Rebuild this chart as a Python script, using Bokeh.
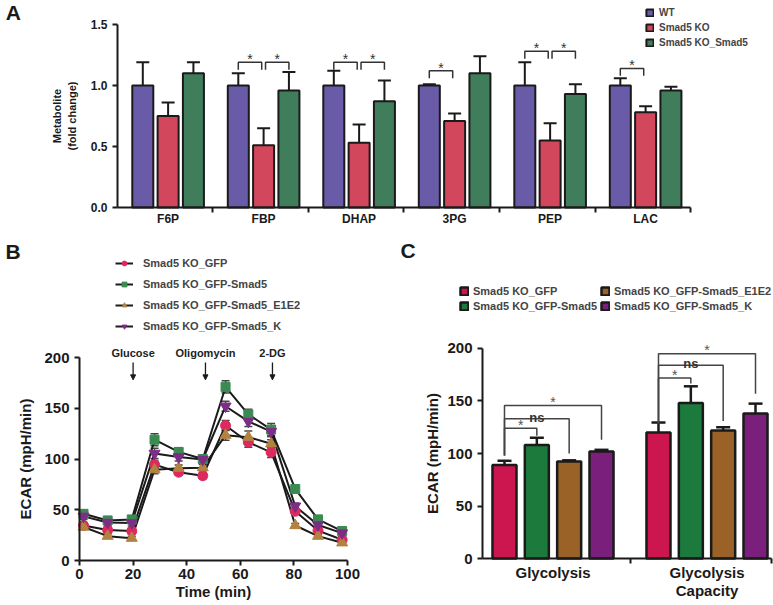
from bokeh.plotting import figure
from bokeh.layouts import column, row
from bokeh.models import (ColumnDataSource, Whisker, TeeHead, FixedTicker, Legend, LegendItem,
                          Label, Arrow, NormalHead, Range1d)
from bokeh.core.properties import value
from bokeh.embed import file_html
from bokeh.resources import INLINE

FONT = "Liberation Sans"
INK = "#1a1a1a"

# ---------------- Panel A data ----------------
metabolites = ["F6P", "FBP", "DHAP", "3PG", "PEP", "LAC"]
a_groups = ["WT", "Smad5 KO", "Smad5 KO_Smad5"]
a_wt = [1.0, 1.0, 1.0, 1.0, 1.0, 1.0]
a_wt_err = [0.19, 0.10, 0.12, 0.01, 0.19, 0.06]
a_ko = [0.75, 0.51, 0.53, 0.71, 0.55, 0.78]
a_ko_err = [0.11, 0.14, 0.15, 0.06, 0.14, 0.05]
a_res = [1.10, 0.96, 0.87, 1.10, 0.93, 0.96]
a_res_err = [0.09, 0.15, 0.17, 0.14, 0.08, 0.03]
a_colors = ["#6a5ba8", "#d2475c", "#3f7d5b"]
a_sig_cat = [1, 1, 2, 2, 3, 4, 4, 5]
a_sig_g0 = [0, 1, 0, 1, 0, 0, 1, 0]
a_sig_g1 = [1, 2, 1, 2, 1, 1, 2, 1]
a_sig_y = [1.19, 1.19, 1.19, 1.19, 1.12, 1.28, 1.28, 1.14]

# ---------------- Panel B data ----------------
b_time = [1.5, 10.5, 19.5, 28, 37, 46, 54.5, 63, 71.5, 80.5, 89, 98]
b_series = ["Smad5 KO_GFP", "Smad5 KO_GFP-Smad5", "Smad5 KO_GFP-Smad5_E1E2", "Smad5 KO_GFP-Smad5_K"]
b_gfp = [34.5, 30, 29, 94.5, 87, 83.5, 133, 116.5, 106.5, 48.5, 29.5, 20.5]
b_smad5 = [46, 39.5, 40.5, 119, 107, 100, 171, 144, 129, 70.5, 40.5, 29]
b_e1e2 = [33, 24, 22, 89.5, 91, 91.5, 123.5, 121.5, 115, 34.5, 24, 17.5]
b_k = [43.5, 37.5, 37, 105.5, 102, 99.5, 152, 137, 127, 53.5, 35, 27]
b_gfp_err = [3, 3, 3, 4, 3, 3, 5, 5, 5, 3, 3, 3]
b_smad5_err = [3, 3, 3, 6, 4, 4, 6, 5, 6, 3, 3, 3]
b_e1e2_err = [2, 2, 2, 4, 3, 3, 5, 6, 4, 2, 2, 2]
b_k_err = [3, 3, 3, 5, 4, 4, 5, 5, 5, 3, 3, 3]
b_colors = ["#dc2a5e", "#3a8a52", "#b38240", "#7d2c88"]
b_markers = ["circle", "square", "triangle", "inverted_triangle"]
b_events = ["Glucose", "Oligomycin", "2-DG"]
b_event_t = [20, 47, 72]

# ---------------- Panel C data ----------------
c_cats = ["Glycolysis", "Glycolysis\nCapacity"]
c_groups = ["Smad5 KO_GFP", "Smad5 KO_GFP-Smad5", "Smad5 KO_GFP-Smad5_E1E2", "Smad5 KO_GFP-Smad5_K"]
c_gfp = [89, 120]
c_smad5 = [108, 148]
c_e1e2 = [92.5, 122]
c_k = [102, 138]
c_gfp_err = [4, 9.5]
c_smad5_err = [7, 16]
c_e1e2_err = [1, 3]
c_k_err = [1.5, 9.5]
c_colors = ["#cc1650", "#1d7a3d", "#9a6226", "#7a1f7c"]
c_sig_label = ["*", "ns", "*"]
c_sig_g1 = [1, 2, 3]
c_sig_y = [[124, 133, 145.7], [172, 184, 195]]
c_left_foot = [98, 128.6]
c_right_foot = [[117, 100, 113], [166.7, 131, 157]]


def style_axes(p, size):
    for ax in (p.xaxis[0], p.yaxis[0]):
        ax.axis_line_width = 2
        ax.axis_line_color = INK
        ax.major_tick_line_width = 2
        ax.major_tick_line_color = INK
        ax.minor_tick_line_width = 2
        ax.minor_tick_line_color = INK
        ax.major_tick_in = 0
        ax.major_tick_out = 5
        ax.minor_tick_in = 0
        ax.minor_tick_out = 5
        ax.major_label_text_font = FONT
        ax.major_label_text_font_style = "bold"
        ax.major_label_text_font_size = size
        ax.major_label_text_color = INK
        ax.axis_label_text_font = FONT
        ax.axis_label_text_font_style = "bold"
        ax.axis_label_text_color = INK
    p.grid.visible = False
    p.outline_line_color = None


def make_fig(w, h, xr, yr):
    return figure(width=w, height=h, x_range=Range1d(*xr), y_range=Range1d(*yr),
                  output_backend="svg", toolbar_location=None,
                  min_border_left=0, min_border_right=0, min_border_top=0, min_border_bottom=0)


# ================= Panel A =================
pA = make_fig(773, 238, (-1.755, 6.339), (-0.2541, 1.6967))
style_axes(pA, "12px")
A_YAXIS_X = -0.53

a_vals = [a_wt, a_ko, a_res]
a_errs = [a_wt_err, a_ko_err, a_res_err]
step_a = 0.265
a_items = []
for g in range(3):
    xs = [i + (g - 1) * step_a for i in range(len(metabolites))]
    src = ColumnDataSource(dict(x=xs, top=a_vals[g],
                                upper=[v + e for v, e in zip(a_vals[g], a_errs[g])]))
    pA.add_layout(Whisker(source=src, base="x", lower="top", upper="upper", dimension="height",
                          line_width=2, line_color=INK,
                          upper_head=TeeHead(size=13, line_width=2, line_color=INK), lower_head=None))
    r = pA.vbar(x="x", top="top", bottom=0, width=0.22, source=src,
                fill_color=a_colors[g], line_color=INK, line_width=2)
    a_items.append(LegendItem(label=a_groups[g], renderers=[r]))

br_xs, br_ys, st_x, st_y = [], [], [], []
for c, g0, g1, y in zip(a_sig_cat, a_sig_g0, a_sig_g1, a_sig_y):
    x0 = c + (g0 - 1) * step_a + (0.02 if g0 == 1 else 0)
    x1 = c + (g1 - 1) * step_a - (0.02 if g1 == 1 else 0)
    br_xs.append([x0, x0, x1, x1])
    br_ys.append([y - 0.06, y, y, y - 0.06])
    st_x.append((x0 + x1) / 2)
    st_y.append(y - 0.04)
pA.multi_line(br_xs, br_ys, line_color="#333333", line_width=1.5)
pA.text(st_x, st_y, text=["*"] * len(st_x), text_align="center", text_baseline="bottom",
        text_font=value(FONT), text_font_size="14px", text_color="#333333")

pA.yaxis[0].fixed_location = A_YAXIS_X
pA.yaxis[0].ticker = FixedTicker(ticks=[0, 0.5, 1.0, 1.5])
pA.yaxis[0].bounds = (0, 1.5)
pA.yaxis[0].major_label_overrides = {0: "0.0", 0.5: "0.5", 1: "1.0", 1.5: "1.5"}
pA.yaxis[0].axis_label = "Metabolite\n(fold change)"
pA.yaxis[0].axis_label_text_font_size = "11px"
pA.yaxis[0].axis_label_standoff = 10
pA.xaxis[0].fixed_location = 0
pA.xaxis[0].bounds = (A_YAXIS_X, len(metabolites) + A_YAXIS_X)
pA.xaxis[0].ticker = FixedTicker(ticks=list(range(len(metabolites))),
                                 minor_ticks=[i + 0.47 for i in range(len(metabolites))])
pA.xaxis[0].major_label_overrides = {i: m for i, m in enumerate(metabolites)}
pA.xaxis[0].major_tick_out = 0
pA.xaxis[0].major_tick_line_color = None
pA.xaxis[0].major_label_standoff = 0

legA = Legend(items=a_items, location=(645, 190), glyph_width=9, glyph_height=9,
              label_text_font=FONT, label_text_font_style="bold", label_text_font_size="10px",
              label_standoff=5, spacing=4, padding=0, margin=0, label_height=11,
              border_line_color=None, background_fill_alpha=0)
pA.add_layout(legA)
pA.add_layout(Label(x=-1.70, y=1.69, text="A", text_font=FONT, text_font_style="bold",
                    text_font_size="21px", text_baseline="top", text_color=INK))

# ================= Panel B =================
pB = make_fig(375, 367, (-29.48, 110.45), (-44.33, 317.24))
style_axes(pB, "15px")
b_vals = [b_gfp, b_smad5, b_e1e2, b_k]
b_errs = [b_gfp_err, b_smad5_err, b_e1e2_err, b_k_err]
b_sizes = [10, 9, 11, 11]
b_items = []
line_rs = []
for k in range(4):
    src = ColumnDataSource(dict(t=b_time, y=b_vals[k],
                                lo=[v - e for v, e in zip(b_vals[k], b_errs[k])],
                                hi=[v + e for v, e in zip(b_vals[k], b_errs[k])]))
    pB.add_layout(Whisker(source=src, base="t", lower="lo", upper="hi", dimension="height",
                          line_width=1.5, line_color="#444444",
                          upper_head=TeeHead(size=8, line_width=1.5, line_color="#444444"),
                          lower_head=TeeHead(size=8, line_width=1.5, line_color="#444444")))
    lr = pB.line("t", "y", source=src, line_color=INK, line_width=2)
    line_rs.append((lr, src))
for k in range(4):
    lr, src = line_rs[k]
    sr = pB.scatter("t", "y", source=src, marker=b_markers[k], size=b_sizes[k],
                    fill_color=b_colors[k], line_color=b_colors[k])
    b_items.append(LegendItem(label=b_series[k], renderers=[lr, sr]))

pB.text(b_event_t, [199] * 3, text=b_events, text_align="center", text_baseline="bottom",
        text_font=value(FONT), text_font_style="bold", text_font_size="11px", text_color="#222222")
for t in b_event_t:
    pB.add_layout(Arrow(end=NormalHead(size=5, fill_color=INK, line_color=INK, line_width=1),
                        x_start=t, y_start=195, x_end=t, y_end=178, line_width=1.3, line_color=INK))

pB.yaxis[0].fixed_location = 0
pB.yaxis[0].ticker = FixedTicker(ticks=[0, 50, 100, 150, 200])
pB.yaxis[0].bounds = (0, 200)
pB.yaxis[0].axis_label = "ECAR (mpH/min)"
pB.yaxis[0].axis_label_text_font_size = "15px"
pB.yaxis[0].axis_label_standoff = 7
pB.xaxis[0].fixed_location = 0
pB.xaxis[0].bounds = (0, 100)
pB.xaxis[0].ticker = FixedTicker(ticks=[0, 20, 40, 60, 80, 100])
pB.xaxis[0].axis_label = "Time (min)"
pB.xaxis[0].axis_label_text_font_size = "15px"
pB.xaxis[0].axis_label_standoff = 1
pB.xaxis[0].major_label_standoff = 3

legB = Legend(items=b_items, location=(115, 273), glyph_width=18, glyph_height=12,
              label_text_font=FONT, label_text_font_style="bold", label_text_font_size="11px",
              label_standoff=10, spacing=8, padding=0, margin=0, label_height=13,
              border_line_color=None, background_fill_alpha=0)
pB.add_layout(legB)
pB.add_layout(Label(x=-27.6, y=316, text="B", text_font=FONT, text_font_style="bold",
                    text_font_size="21px", text_baseline="top", text_color=INK))

# ================= Panel C =================
pC = make_fig(398, 367, (-1.1526, 1.4318), (-44.76, 304.76))
style_axes(pC, "15px")
C_YAXIS_X = -0.4578
c_vals = [c_gfp, c_smad5, c_e1e2, c_k]
c_errs = [c_gfp_err, c_smad5_err, c_e1e2_err, c_k_err]
step_c = 0.21
c_items = []
for g in range(4):
    xs = [i + (g - 1.5) * step_c for i in range(len(c_cats))]
    src = ColumnDataSource(dict(x=xs, top=c_vals[g],
                                upper=[v + e for v, e in zip(c_vals[g], c_errs[g])]))
    pC.add_layout(Whisker(source=src, base="x", lower="top", upper="upper", dimension="height",
                          line_width=2.5, line_color=INK,
                          upper_head=TeeHead(size=14, line_width=2.5, line_color=INK), lower_head=None))
    r = pC.vbar(x="x", top="top", bottom=0, width=0.156, source=src,
                fill_color=c_colors[g], line_color=INK, line_width=2.5)
    c_items.append(LegendItem(label=c_groups[g], renderers=[r]))

cb_xs, cb_ys, ct_x, ct_y, ct_txt = [], [], [], [], []
for i in range(len(c_cats)):
    x0 = i - 1.5 * step_c
    for j, g1 in enumerate(c_sig_g1):
        x1 = i + (g1 - 1.5) * step_c
        y = c_sig_y[i][j]
        cb_xs.append([x0, x0, x1, x1])
        cb_ys.append([c_left_foot[i], y, y, c_right_foot[i][j]])
        ct_x.append((x0 + x1) / 2)
        ct_txt.append(c_sig_label[j])
        ct_y.append(y - 4.5 if c_sig_label[j] == "*" else y + 1.5)
pC.multi_line(cb_xs, cb_ys, line_color="#444444", line_width=1.5)
stars = [k for k, s in enumerate(ct_txt) if s == "*"]
nss = [k for k, s in enumerate(ct_txt) if s == "ns"]
pC.text([ct_x[k] for k in stars], [ct_y[k] for k in stars], text=["*"] * len(stars),
        text_align="center", text_baseline="bottom", text_font=value(FONT),
        text_font_size="14px", text_color="#555555")
pC.text([ct_x[k] for k in nss], [ct_y[k] for k in nss], text=["ns"] * len(nss),
        text_align="center", text_baseline="alphabetic", text_font=value(FONT),
        text_font_style="bold", text_font_size="13px", text_color="#333333")

pC.yaxis[0].fixed_location = C_YAXIS_X
pC.yaxis[0].ticker = FixedTicker(ticks=[0, 50, 100, 150, 200])
pC.yaxis[0].bounds = (0, 200)
pC.yaxis[0].axis_label = "ECAR (mpH/min)"
pC.yaxis[0].axis_label_text_font_size = "15px"
pC.yaxis[0].axis_label_standoff = 3
pC.xaxis[0].fixed_location = 0
pC.xaxis[0].bounds = (C_YAXIS_X, 1.42)
pC.xaxis[0].ticker = FixedTicker(ticks=list(range(len(c_cats))), minor_ticks=[0.5, 1.42])
pC.xaxis[0].major_label_overrides = {i: c for i, c in enumerate(c_cats)}
pC.xaxis[0].major_label_text_font_size = "15px"
pC.xaxis[0].major_label_text_line_height = 1.1
pC.xaxis[0].major_tick_out = 0
pC.xaxis[0].major_tick_line_color = None
pC.xaxis[0].major_label_standoff = 0

legC1 = Legend(items=c_items[:2], location=(84, 293), glyph_width=10, glyph_height=10,
               label_text_font=FONT, label_text_font_style="bold", label_text_font_size="11px",
               label_standoff=4, spacing=2, padding=0, margin=0, label_height=13,
               border_line_color=None, background_fill_alpha=0)
legC2 = Legend(items=c_items[2:], location=(225, 293), glyph_width=10, glyph_height=10,
               label_text_font=FONT, label_text_font_style="bold", label_text_font_size="11px",
               label_standoff=4, spacing=2, padding=0, margin=0, label_height=13,
               border_line_color=None, background_fill_alpha=0)
pC.add_layout(legC1)
pC.add_layout(legC2)
pC.add_layout(Label(x=-0.99, y=304, text="C", text_font=FONT, text_font_style="bold",
                    text_font_size="21px", text_baseline="top", text_color=INK))

layout = column(pA, row(pB, pC))
open("out.html", "w").write(file_html(layout, INLINE))
